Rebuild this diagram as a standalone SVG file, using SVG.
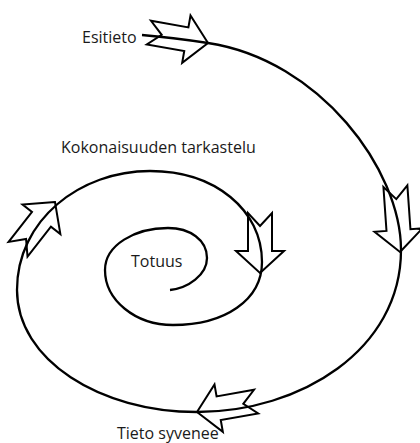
<svg xmlns="http://www.w3.org/2000/svg" xmlns:xlink="http://www.w3.org/1999/xlink" width="420" height="443" viewBox="0 0 420 443">
  <style>
    .lbl { font-family: "Open Sans", "Liberation Sans", sans-serif; font-size: 16px; fill: #1a1a1a; }
    .arw { fill: #ffffff; stroke: #000000; stroke-width: 2; stroke-linejoin: miter; }
    .spiral { fill: none; stroke: #000000; stroke-width: 2.3; stroke-linecap: butt; }
  </style>
  <defs>
    <!-- notched block arrow, tip at origin, pointing along +x -->
    <polygon id="notched" points="0,0 -22,-24 -22,-12 -60,-12 -47,0 -60,12 -22,12 -22,24"/>
    <polygon id="notched-long" points="0,0 -22,-24 -22,-12 -66,-12 -53,0 -66,12 -22,12 -22,24"/>
  </defs>
  <rect width="420" height="443" fill="#ffffff"/>

  <!-- direction arrows sitting on the spiral -->
  <g id="arrows">
    <use xlink:href="#notched" class="arw" transform="translate(208,43) rotate(10)"/>
    <use xlink:href="#notched-long" class="arw" transform="translate(400,252) rotate(86)"/>
    <use xlink:href="#notched" class="arw" transform="translate(197,412) rotate(170)"/>
    <use xlink:href="#notched" class="arw" transform="translate(55,202) rotate(-52)"/>
    <use xlink:href="#notched" class="arw" transform="translate(260,273) rotate(90)"/>
  </g>

  <!-- spiral connector from the centre outwards -->
  <g id="connectors">
    <path class="spiral" d="M170,290
      C188,288 207,275 207,258
      C207,240 190,228 168,228
      C135,228 105,245 105,270
      C105,300 135,325 173,325
      C225,325 262,300 262,262
      C262,210 215,171 150,171
      C80,171 17,220 17,290
      C17,360 100,412 197,412
      C300,412 401,350 401,250
      C401,170 320,60 208,43
      C185,39.5 160,36.5 142,35"/>
  </g>

  <g id="esitieto"><text class="lbl" x="82" y="43">Esitieto</text></g>
  <g id="kokonaisuus"><text class="lbl" x="61" y="153">Kokonaisuuden tarkastelu</text></g>
  <g id="totuus"><text class="lbl" x="131" y="267">Totuus</text></g>
  <g id="tieto-syvenee"><text class="lbl" x="117" y="439">Tieto syvenee</text></g>
</svg>
